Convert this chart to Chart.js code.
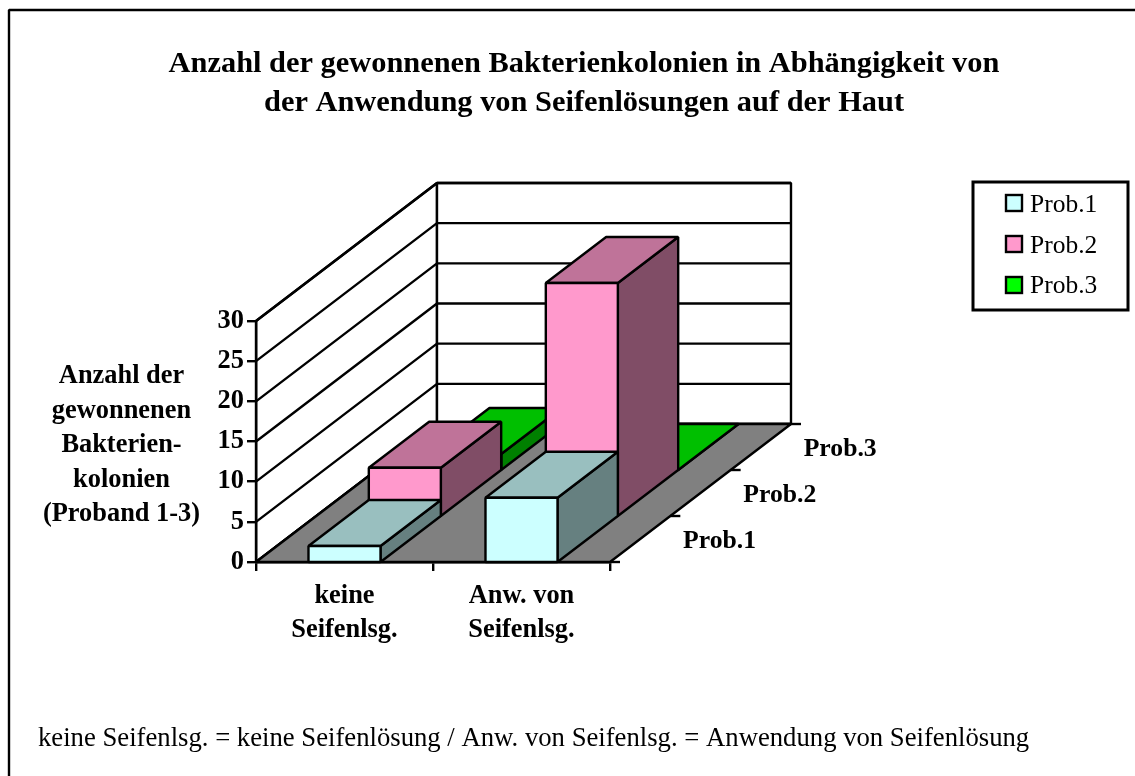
<!DOCTYPE html>
<html><head><meta charset="utf-8">
<style>html,body{margin:0;padding:0;background:#fff;overflow:hidden}canvas{display:block}</style>
<script src="https://cdn.jsdelivr.net/npm/chart.js@4"></script>
</head><body><canvas id="c" width="1135" height="776"></canvas>
<script>
const titleLines = ["Anzahl der gewonnenen Bakterienkolonien in Abhängigkeit von","der Anwendung von Seifenlösungen auf der Haut"];
const yTitleLines = ["Anzahl der","gewonnenen","Bakterien-","kolonien","(Proband 1-3)"];
const footnote = "keine Seifenlsg. = keine Seifenlösung / Anw. von Seifenlsg. = Anwendung von Seifenlösung";
const categories = [["keine","Seifenlsg."],["Anw. von","Seifenlsg."]];
const seriesNames = ["Prob.1","Prob.2","Prob.3"];
const prob1 = [2,8];
const prob2 = [6,29];
const prob3 = [2,0];
const seriesColors = [[204,255,255],[255,153,204],[0,255,0]];
const FONT = '"Liberation Serif","Times New Roman",serif';
const rgb = (c,f=1)=>`rgb(${Math.round(c[0]*f)},${Math.round(c[1]*f)},${Math.round(c[2]*f)})`;
const DX = 60.33, DY = 46, LW = 2.4;

function poly(ctx, pts, fill){
  ctx.beginPath();
  pts.forEach((p,i)=> i?ctx.lineTo(p[0],p[1]):ctx.moveTo(p[0],p[1]));
  ctx.closePath();
  if(fill){ctx.fillStyle=fill;ctx.fill();}
  ctx.stroke();
}
const plugin3d = {
  id:'plot3d',
  beforeDatasetsDraw(chart){
    const {ctx,chartArea:a,scales:{x,y}} = chart;
    const n = seriesNames.length, tx = n*DX, ty = n*DY;
    ctx.save();
    ctx.strokeStyle='#000';ctx.lineWidth=LW;ctx.lineJoin='bevel';
    // frame (top and left edges only reach the picture)
    ctx.beginPath();ctx.moveTo(9,776);ctx.lineTo(9,10);ctx.lineTo(1135,10);ctx.stroke();
    // walls
    poly(ctx,[[a.left,a.top],[a.left+tx,a.top-ty],[a.left+tx,a.bottom-ty],[a.left,a.bottom]],'#fff');
    poly(ctx,[[a.left+tx,a.top-ty],[a.right+tx,a.top-ty],[a.right+tx,a.bottom-ty],[a.left+tx,a.bottom-ty]],'#fff');
    y.ticks.forEach(t=>{
      const py = y.getPixelForValue(t.value);
      ctx.beginPath();ctx.moveTo(a.left,py);ctx.lineTo(a.left+tx,py-ty);ctx.lineTo(a.right+tx,py-ty);ctx.stroke();
    });
    // floor
    poly(ctx,[[a.left,a.bottom],[a.right,a.bottom],[a.right+tx,a.bottom-ty],[a.left+tx,a.bottom-ty]],'#808080');
    // depth ticks and labels
    for(let i=0;i<=n;i++){
      const px=a.right+i*DX, py=a.bottom-i*DY;
      ctx.beginPath();ctx.moveTo(px,py);ctx.lineTo(px+10,py);ctx.stroke();
    }
    ctx.fillStyle='#000';ctx.font='bold 25.7px '+FONT;ctx.textAlign='left';ctx.textBaseline='alphabetic';
    seriesNames.forEach((s,i)=>ctx.fillText(s,a.right+73+i*DX,a.bottom-14-i*DY));
    ctx.restore();
  },
  beforeDatasetDraw(chart,args){
    const {ctx,scales:{y}} = chart;
    const i = args.index, c = seriesColors[i];
    const ox = i*DX, oy = i*DY, zero = y.getPixelForValue(0);
    ctx.save();
    ctx.strokeStyle='#000';ctx.lineWidth=LW;ctx.lineJoin='bevel';
    args.meta.data.forEach(el=>{
      const l=el.x-el.width/2+ox, r=el.x+el.width/2+ox, t=el.y-oy, b=zero-oy;
      poly(ctx,[[r,t],[r+DX,t-DY],[r+DX,b-DY],[r,b]],rgb(c,.5));
      poly(ctx,[[l,t],[l+DX,t-DY],[r+DX,t-DY],[r,t]],rgb(c,.75));
      if(b>t) poly(ctx,[[l,t],[r,t],[r,b],[l,b]],rgb(c));
    });
    ctx.restore();
    return false;
  },
  afterDraw(chart){
    const {ctx} = chart;
    ctx.save();
    ctx.fillStyle='#000';ctx.textBaseline='alphabetic';
    // title
    ctx.font='bold 30.4px '+FONT;ctx.textAlign='center';
    titleLines.forEach((s,i)=>ctx.fillText(s,584,72+i*39));
    // y axis title
    ctx.font='bold 26.4px '+FONT;
    yTitleLines.forEach((s,i)=>ctx.fillText(s,121.5,383+i*34.5));
    // legend
    ctx.strokeStyle='#000';ctx.lineWidth=3;
    ctx.strokeRect(973,182,155,128);
    ctx.lineWidth=2.4;
    ctx.font='25.5px '+FONT;ctx.textAlign='left';
    seriesNames.forEach((s,i)=>{
      const top=195+i*41;
      ctx.fillStyle=rgb(seriesColors[i]);
      ctx.fillRect(1006,top,16,16);ctx.strokeRect(1006,top,16,16);
      ctx.fillStyle='#000';
      ctx.fillText(s,1030,212+i*40.5);
    });
    // footnote
    ctx.font='26.7px '+FONT;
    ctx.fillText(footnote,38,746);
    ctx.restore();
  }
};
new Chart(document.getElementById('c'),{
  type:'bar',
  data:{labels:categories,datasets:[
    {label:seriesNames[0],data:prob1,backgroundColor:rgb(seriesColors[0])},
    {label:seriesNames[1],data:prob2,backgroundColor:rgb(seriesColors[1])},
    {label:seriesNames[2],data:prob3,backgroundColor:rgb(seriesColors[2])}
  ]},
  plugins:[plugin3d],
  options:{
    responsive:false,animation:false,
    layout:{padding:{left:0,right:525,top:321,bottom:0}},
    datasets:{bar:{grouped:false,categoryPercentage:1,barPercentage:0.407,clip:false}},
    plugins:{legend:{display:false},title:{display:false},tooltip:{enabled:false}},
    scales:{
      x:{afterFit(s){s.height=214;},
        grid:{drawOnChartArea:false,color:'#000',lineWidth:2.4,tickLength:9,z:1},
        border:{display:true,color:'#000',width:2.4,z:1},
        ticks:{color:'#000',padding:8,maxRotation:0,autoSkip:false,font:{family:FONT,size:26.4,weight:'bold',lineHeight:1.29},z:1}},
      y:{min:0,max:30,afterFit(s){s.width=256;},
        grid:{drawOnChartArea:false,color:'#000',lineWidth:2.4,tickLength:9,z:1},
        border:{display:true,color:'#000',width:2.4,z:1},
        ticks:{color:'#000',padding:3,stepSize:5,font:{family:FONT,size:26.4,weight:'bold'},z:1}}
    }
  }
});
</script></body></html>
